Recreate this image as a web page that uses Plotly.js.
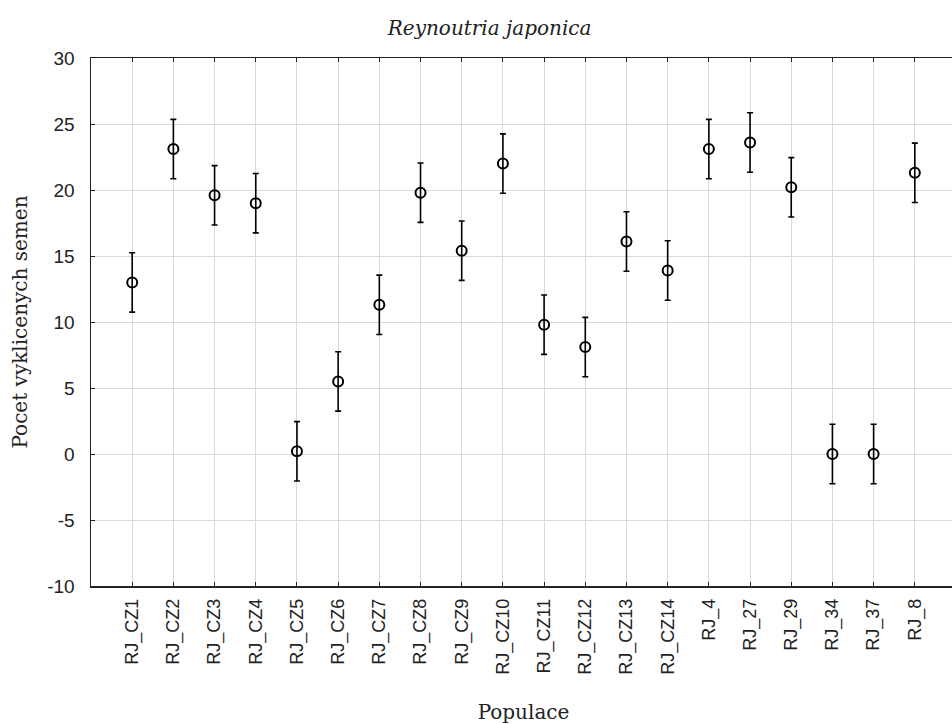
<!DOCTYPE html>
<html><head><meta charset="utf-8">
<script src="https://cdn.plot.ly/plotly-3.0.1.min.js"></script>
<style>html,body{margin:0;padding:0;overflow:hidden;background:#fff;}#chart{width:960px;height:724px;}</style>
</head><body><div id="chart"></div>
<script>
const categories = ["RJ_CZ1","RJ_CZ2","RJ_CZ3","RJ_CZ4","RJ_CZ5","RJ_CZ6","RJ_CZ7","RJ_CZ8","RJ_CZ9","RJ_CZ10","RJ_CZ11","RJ_CZ12","RJ_CZ13","RJ_CZ14","RJ_4","RJ_27","RJ_29","RJ_34","RJ_37","RJ_8"];
const means = [13.0,23.1,19.6,19.0,0.2,5.5,11.3,19.8,15.4,22.0,9.8,8.1,16.1,13.9,23.1,23.6,20.2,0.0,0.0,21.3];
const errors = [2.25,2.25,2.25,2.25,2.25,2.25,2.25,2.25,2.25,2.25,2.25,2.25,2.25,2.25,2.25,2.25,2.25,2.25,2.25,2.25];
const yTicks = [-10,-5,0,5,10,15,20,25,30];

const trace = {
  x: categories, y: means, type: 'scatter', mode: 'markers',
  marker: {symbol: 'circle-open', size: 10, color: '#000', line: {width: 2, color: '#000'}},
  error_y: {type: 'data', array: errors, visible: true, color: '#000', thickness: 1.6, width: 3},
  hoverinfo: 'skip'
};
const layout = {
  width: 960, height: 724,
  margin: {l: 91, r: 4, t: 58, b: 138},
  paper_bgcolor: '#fff', plot_bgcolor: '#fff',
  showlegend: false,
  title: {text: 'Reynoutria japonica', x: 0.51, xref: 'container', xanchor: 'center', y: 0.961, yanchor: 'middle',
          font: {family: 'DejaVu Serif, serif', size: 20, color: '#222', style: 'italic'}},
  xaxis: {
    type: 'category', categoryorder: 'array', categoryarray: categories,
    range: [-1, 20], showgrid: true, gridcolor: '#d9d9d9', gridwidth: 1,
    showline: true, linecolor: '#222', linewidth: 1.5, mirror: 'ticks',
    ticks: 'inside', ticklen: 4, tickcolor: '#222', tickangle: -90,
    ticklabelstandoff: 4,
    tickfont: {family: 'Liberation Sans Narrow, Liberation Sans, Arial, sans-serif', size: 18, color: '#222'},
    zeroline: false,
    title: {text: 'Populace', standoff: 38, font: {family: 'DejaVu Serif, serif', size: 20, color: '#222'}}
  },
  yaxis: {
    range: [-10, 30], tickvals: yTicks, ticktext: yTicks.map(String),
    showgrid: true, gridcolor: '#d9d9d9', gridwidth: 1,
    showline: true, linecolor: '#222', linewidth: 1.5, mirror: 'ticks',
    ticks: 'inside', ticklen: 4, tickcolor: '#222',
    ticklabelstandoff: 11,
    tickfont: {family: 'Liberation Sans, Arial, sans-serif', size: 19, color: '#222'},
    zeroline: false,
    title: {text: 'Pocet vyklicenych semen', standoff: 14, font: {family: 'DejaVu Serif, serif', size: 20, color: '#222'}}
  }
};
Plotly.newPlot('chart', [trace], layout, {staticPlot: true, displayModeBar: false});
</script>
</body></html>
